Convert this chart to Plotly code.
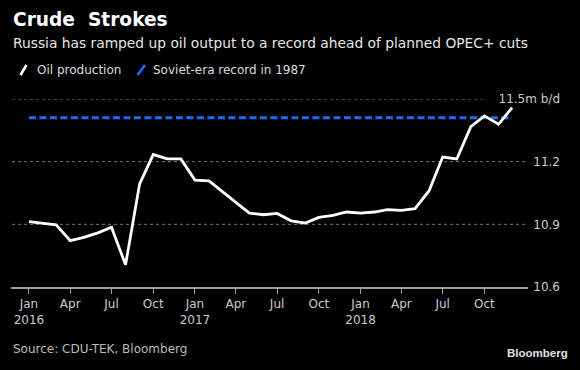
import plotly.graph_objects as go

# ---- data ----
months = [
    "2016-01-01", "2016-02-01", "2016-03-01", "2016-04-01", "2016-05-01", "2016-06-01",
    "2016-07-01", "2016-08-01", "2016-09-01", "2016-10-01", "2016-11-01", "2016-12-01",
    "2017-01-01", "2017-02-01", "2017-03-01", "2017-04-01", "2017-05-01", "2017-06-01",
    "2017-07-01", "2017-08-01", "2017-09-01", "2017-10-01", "2017-11-01", "2017-12-01",
    "2018-01-01", "2018-02-01", "2018-03-01", "2018-04-01", "2018-05-01", "2018-06-01",
    "2018-07-01", "2018-08-01", "2018-09-01", "2018-10-01", "2018-11-01", "2018-12-01",
]
oil_production = [
    10.913, 10.905, 10.898, 10.822, 10.838, 10.859,
    10.886, 10.706, 11.094, 11.234, 11.213, 11.213,
    11.112, 11.108, 11.058, 11.005, 10.954, 10.946,
    10.952, 10.917, 10.906, 10.933, 10.943, 10.959,
    10.954, 10.959, 10.970, 10.967, 10.975, 11.061,
    11.222, 11.213, 11.368, 11.419, 11.379, 11.459,
]
record_dates = ["2016-01-01", "2018-12-01"]
soviet_record = [11.41, 11.41]

x_tickvals = ["2016-01-01", "2016-04-01", "2016-07-01", "2016-10-01",
              "2017-01-01", "2017-04-01", "2017-07-01", "2017-10-01",
              "2018-01-01", "2018-04-01", "2018-07-01", "2018-10-01"]
x_ticktext = ["Jan<br>2016", "Apr", "Jul", "Oct",
              "Jan<br>2017", "Apr", "Jul", "Oct",
              "Jan<br>2018", "Apr", "Jul", "Oct"]
y_tickvals = [10.6, 10.9, 11.2, 11.5]
y_ticktext = ["10.6", "10.9", "11.2", "11.5m b/d"]

FONT = "DejaVu Sans"
BLUE = "#1f6bff"

fig = go.Figure()
fig.add_trace(go.Scatter(x=record_dates, y=soviet_record, mode="lines",
                         line=dict(color=BLUE, width=3, dash="7px,3.5px"),
                         name="Soviet-era record in 1987", hoverinfo="skip"))
fig.add_trace(go.Scatter(x=months, y=oil_production, mode="lines",
                         line=dict(color="white", width=2.8),
                         name="Oil production"))

L, R, T, B = 11, 20, 99, 83
W, H = 580, 370
pw = W - L - R
ph = H - T - B
dom = (528 - L) / pw

def px_x(x):
    return (x - L) / pw

def px_y(y):
    return (H - B - y) / ph

shapes = []
# gridlines (dotted)
for v, xend in [(10.9, 1.0), (11.2, 1.0), (11.5, (487 - L) / (528 - L))]:
    shapes.append(dict(type="line", xref="x domain", yref="y", x0=0.002, x1=xend, y0=v, y1=v,
                       line=dict(color="#7a7a7a", width=1, dash="dot"), layer="below"))
# legend slashes
shapes.append(dict(type="line", xref="paper", yref="paper",
                   x0=px_x(20.5), x1=px_x(26.5), y0=px_y(75), y1=px_y(65),
                   line=dict(color="white", width=2.6)))
shapes.append(dict(type="line", xref="paper", yref="paper",
                   x0=px_x(137.5), x1=px_x(145), y0=px_y(75), y1=px_y(65),
                   line=dict(color=BLUE, width=2.6)))

annotations = [
    dict(text="<b>Crude  Strokes</b>", x=px_x(11), y=px_y(19.5), xref="paper", yref="paper",
         xanchor="left", yanchor="middle", showarrow=False,
         font=dict(family=FONT, size=18.6, color="white")),
    dict(text="Russia has ramped up oil output to a record ahead of planned OPEC+ cuts",
         x=px_x(11), y=px_y(43), xref="paper", yref="paper",
         xanchor="left", yanchor="middle", showarrow=False,
         font=dict(family=FONT, size=13.8, color="#e6e6e6")),
    dict(text="Oil production", x=px_x(34.5), y=px_y(70), xref="paper", yref="paper",
         xanchor="left", yanchor="middle", showarrow=False,
         font=dict(family=FONT, size=12, color="#dddddd")),
    dict(text="Soviet-era record in 1987", x=px_x(151), y=px_y(70), xref="paper", yref="paper",
         xanchor="left", yanchor="middle", showarrow=False,
         font=dict(family=FONT, size=12, color="#dddddd")),
    dict(text="Source: CDU-TEK, Bloomberg", x=px_x(11), y=px_y(348.5), xref="paper", yref="paper",
         xanchor="left", yanchor="middle", showarrow=False,
         font=dict(family=FONT, size=12, color="#bbbbbb")),
    dict(text="<b>Bloomberg</b>", x=px_x(570), y=px_y(353), xref="paper", yref="paper",
         xanchor="right", yanchor="middle", showarrow=False,
         font=dict(family="Liberation Sans", size=11.5, color="#e0e0e0")),
]

fig.update_layout(
    width=W, height=H,
    margin=dict(l=L, r=R, t=T, b=B, pad=0, autoexpand=False),
    paper_bgcolor="black", plot_bgcolor="black",
    showlegend=False,
    shapes=shapes, annotations=annotations,
    xaxis=dict(domain=[0, dom], type="date", automargin=False,
               range=["2015-11-22 12:00", "2019-01-05"],
               tickmode="array", tickvals=x_tickvals, ticktext=x_ticktext,
               showgrid=False, zeroline=False,
               showline=True, linecolor="#a0a0a0", linewidth=2,
               ticks="outside", ticklen=5, tickwidth=1, tickcolor="#a0a0a0",
               tickfont=dict(family=FONT, size=12, color="#cccccc")),
    yaxis=dict(range=[10.6, 11.5], anchor="free", position=1.0, side="left", automargin=False,
               tickmode="array", tickvals=y_tickvals, ticktext=y_ticktext,
               showgrid=False, zeroline=False, showline=False, ticks="",
               tickfont=dict(family=FONT, size=12, color="#cccccc")),
)

fig.write_html("out.html",
               config={"displayModeBar": False},
               post_script="document.body.style.margin='0';document.body.style.background='black';")
